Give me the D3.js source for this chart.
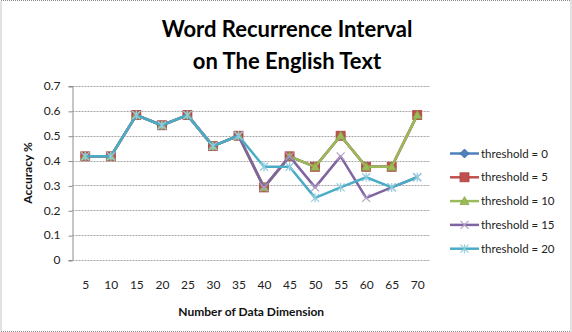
<!DOCTYPE html>
<html>
<head>
<meta charset="utf-8">
<script src="https://cdn.jsdelivr.net/npm/d3@7/dist/d3.min.js"></script>
<style>
  html, body { margin: 0; padding: 0; background: #fff; }
  svg { display: block; font-family: Lato, "Open Sans", sans-serif; }
</style>
</head>
<body>
<svg id="chart" width="572" height="332"></svg>
<script>
// Data dimensions on the x axis
const dimensions = [5, 10, 15, 20, 25, 30, 35, 40, 45, 50, 55, 60, 65, 70];

// Accuracy for each threshold
const threshold0  = [0.417, 0.417, 0.583, 0.542, 0.583, 0.458, 0.5, 0.292, 0.417, 0.375, 0.5, 0.375, 0.375, 0.583];
const threshold5  = [0.417, 0.417, 0.583, 0.542, 0.583, 0.458, 0.5, 0.292, 0.417, 0.375, 0.5, 0.375, 0.375, 0.583];
const threshold10 = [0.417, 0.417, 0.583, 0.542, 0.583, 0.458, 0.5, 0.292, 0.417, 0.375, 0.5, 0.375, 0.375, 0.583];
const threshold15 = [0.417, 0.417, 0.583, 0.542, 0.583, 0.458, 0.5, 0.292, 0.417, 0.292, 0.417, 0.25, 0.292, 0.333];
const threshold20 = [0.417, 0.417, 0.583, 0.542, 0.583, 0.458, 0.5, 0.375, 0.375, 0.25, 0.292, 0.333, 0.292, 0.333];

const seriesNames = ["threshold = 0", "threshold = 5", "threshold = 10", "threshold = 15", "threshold = 20"];
const yTicks = [0, 0.1, 0.2, 0.3, 0.4, 0.5, 0.6, 0.7];

const seriesValues = [threshold0, threshold5, threshold10, threshold15, threshold20];
const colors = ["#4F81BD", "#C0504D", "#9BBB59", "#8064A2", "#4BACC6"];
const markers = ["diamond", "square", "triangle", "x", "star"];

const svg = d3.select("#chart");

// chart-area border
svg.append("rect")
  .attr("x", 1).attr("y", 0.5).attr("width", 570).attr("height", 331)
  .attr("fill", "#fff").attr("stroke", "#8a8a8a").attr("stroke-width", 1)
  .attr("stroke-dasharray", "1,1");

const plot = { left: 72.5, right: 430, top: 86, bottom: 260 };

const x = d3.scalePoint().domain(dimensions).range([plot.left, plot.right]).padding(0.5);
const y = d3.scaleLinear().domain([0, 0.7]).range([plot.bottom, plot.top]);

// horizontal gridlines
svg.append("g").selectAll("line").data(yTicks.filter(t => t > 0)).join("line")
  .attr("x1", plot.left).attr("x2", plot.right)
  .attr("y1", d => Math.round(y(d)) + 0.5).attr("y2", d => Math.round(y(d)) + 0.5)
  .attr("stroke", "#a6a6a6").attr("stroke-width", 1).attr("stroke-dasharray", "2,1");

// y axis
const yAxis = d3.axisLeft(y).tickValues(yTicks).tickSize(4).tickFormat(d => d === 0 ? "0" : d3.format(".1f")(d));
const gy = svg.append("g").attr("transform", `translate(${plot.left},0)`).call(yAxis);
gy.select(".domain").attr("stroke", "#8c8c8c");
gy.selectAll(".tick line").attr("stroke", "#8c8c8c").attr("transform", "translate(0,0.5)");
gy.selectAll(".tick text").attr("x", -12).attr("font-size", 12).attr("fill", "#222")
  .attr("font-family", "Lato, sans-serif");

// x axis baseline
svg.append("line")
  .attr("x1", plot.left).attr("x2", plot.right)
  .attr("y1", plot.bottom + 0.5).attr("y2", plot.bottom + 0.5)
  .attr("stroke", "#a6a6a6").attr("stroke-dasharray", "2,1");

const xAxis = d3.axisBottom(x).tickSize(0).tickPadding(20);
const gx = svg.append("g").attr("transform", `translate(0,${plot.bottom})`).call(xAxis);
gx.select(".domain").remove();
gx.selectAll(".tick text").attr("font-size", 12).attr("fill", "#222")
  .attr("font-family", "Lato, sans-serif");

// axis titles
svg.append("text")
  .attr("x", (plot.left + plot.right) / 2).attr("y", 316)
  .attr("text-anchor", "middle").attr("font-size", 12).attr("font-weight", "bold").attr("fill", "#111")
  .text("Number of Data Dimension");
svg.append("text")
  .attr("transform", `translate(32,${(plot.top + plot.bottom) / 2}) rotate(-90)`)
  .attr("text-anchor", "middle").attr("font-size", 12).attr("font-weight", "bold").attr("fill", "#111")
  .text("Accuracy %");

// title
const title = svg.append("text").attr("text-anchor", "middle").attr("font-weight", "bold")
  .attr("font-size", 22).attr("fill", "#000");
title.append("tspan").attr("x", 287).attr("y", 37).text("Word Recurrence Interval");
title.append("tspan").attr("x", 287).attr("y", 69).text("on The English Text");

// marker shapes
function drawMarker(g, type, color, cx, cy) {
  if (type === "diamond") {
    g.append("path").attr("d", `M${cx},${cy - 4.5}L${cx + 4.5},${cy}L${cx},${cy + 4.5}L${cx - 4.5},${cy}Z`)
      .attr("fill", color).attr("stroke", "#3a6aa5").attr("stroke-width", 0.8);
  } else if (type === "square") {
    g.append("rect").attr("x", cx - 4.5).attr("y", cy - 4.5).attr("width", 9).attr("height", 9)
      .attr("fill", color).attr("stroke", "#a84542").attr("stroke-width", 0.8);
  } else if (type === "triangle") {
    g.append("path").attr("d", `M${cx},${cy - 4.5}L${cx + 4.5},${cy + 3.5}L${cx - 4.5},${cy + 3.5}Z`)
      .attr("fill", color).attr("stroke", "#86a44a").attr("stroke-width", 0.8);
  } else if (type === "x") {
    g.append("path").attr("d", `M${cx - 4},${cy - 4}L${cx + 4},${cy + 4}M${cx - 4},${cy + 4}L${cx + 4},${cy - 4}`)
      .attr("stroke", "#b3a2c7").attr("stroke-width", 1.2).attr("fill", "none");
  } else if (type === "star") {
    g.append("path").attr("d", `M${cx - 4},${cy - 4}L${cx + 4},${cy + 4}M${cx - 4},${cy + 4}L${cx + 4},${cy - 4}M${cx},${cy - 4.5}L${cx},${cy + 4.5}`)
      .attr("stroke", "#93cddd").attr("stroke-width", 1.2).attr("fill", "none");
  }
}

const line = d3.line().x((d, i) => x(dimensions[i])).y(d => y(d));

// series, later ones drawn on top
seriesValues.forEach((vals, s) => {
  const g = svg.append("g");
  g.append("path").attr("d", line(vals)).attr("fill", "none")
    .attr("stroke", colors[s]).attr("stroke-width", 2.5).attr("stroke-linejoin", "round");
  vals.forEach((v, i) => drawMarker(g, markers[s], colors[s], x(dimensions[i]), y(v)));
});

// legend
const legend = svg.append("g");
seriesNames.forEach((name, s) => {
  const ly = 153.5 + s * 23.8;
  const g = legend.append("g");
  g.append("line").attr("x1", 450).attr("x2", 479).attr("y1", ly).attr("y2", ly)
    .attr("stroke", colors[s]).attr("stroke-width", 2.5);
  drawMarker(g, markers[s], colors[s], 464.5, ly);
  g.append("text").attr("x", 481).attr("y", ly + 4).attr("font-size", 11.5).attr("fill", "#222").text(name);
});
</script>
</body>
</html>
